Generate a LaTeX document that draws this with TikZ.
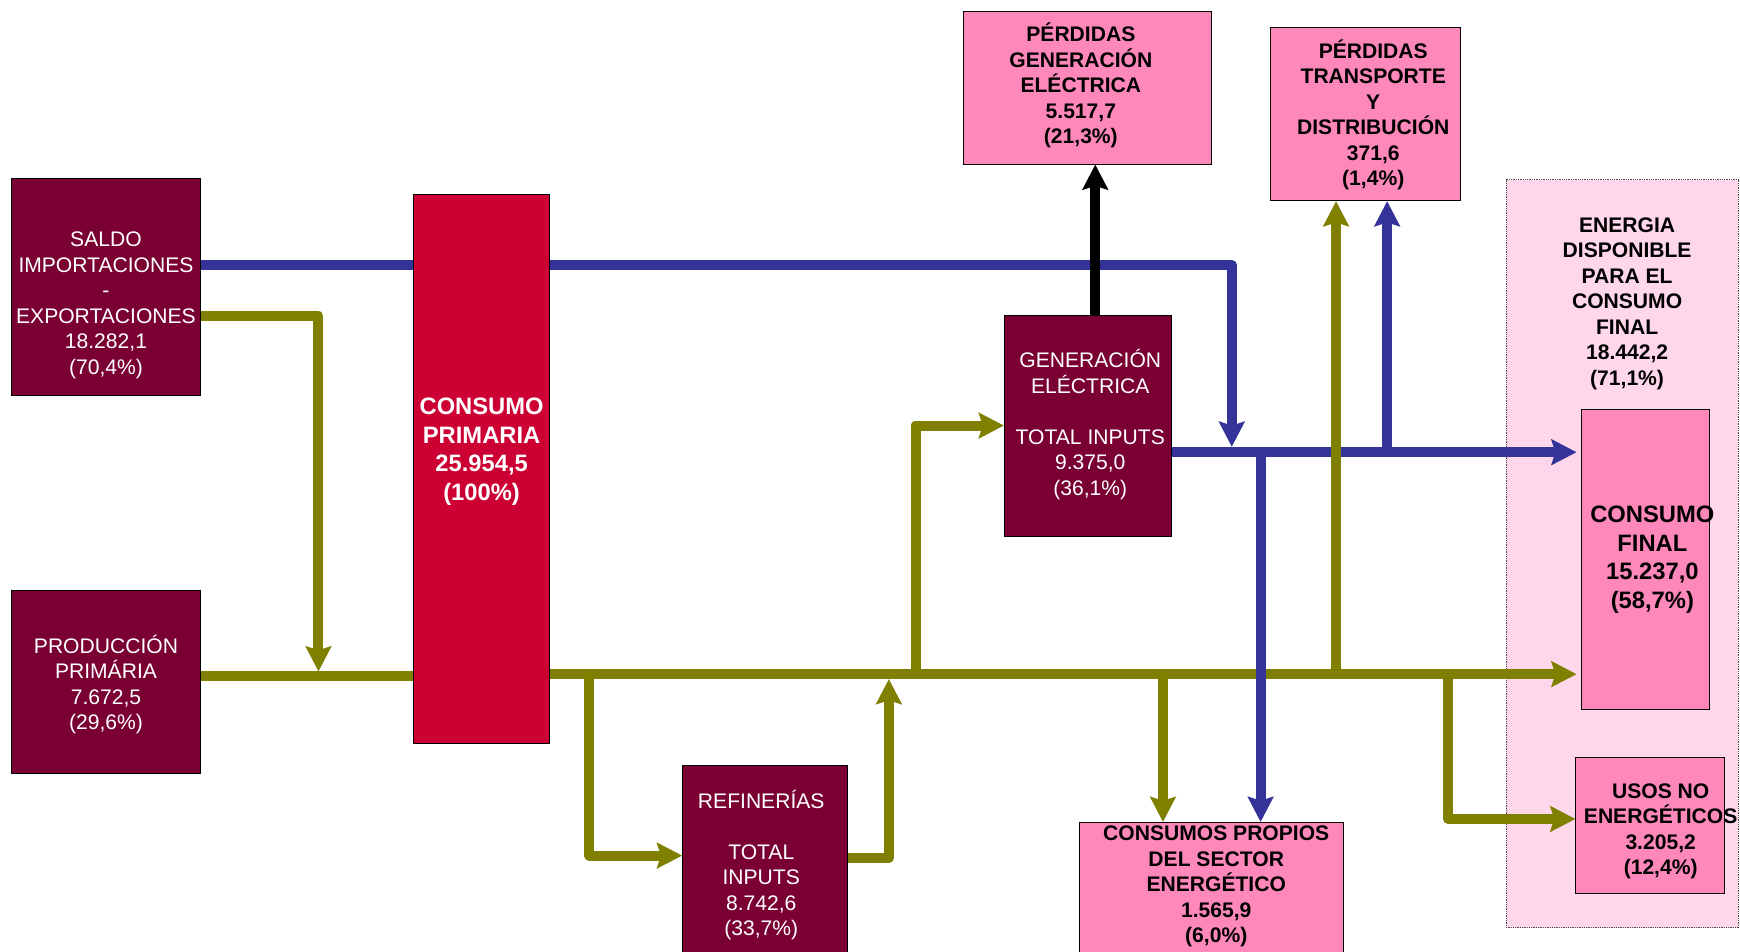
\documentclass[tikz,border=0pt]{standalone}
\usepackage{fontspec}
\setmainfont{Liberation Sans}
\usetikzlibrary{arrows.meta,backgrounds}

\definecolor{boxmaroon}{RGB}{122,0,51}
\definecolor{boxred}{RGB}{204,0,51}
\definecolor{boxpink}{RGB}{255,136,187}
\definecolor{areapink}{RGB}{255,215,235}
\definecolor{flowblue}{RGB}{51,51,153}
\definecolor{flowolive}{RGB}{128,128,0}

\tikzset{
	box/.style={draw=black, line width=0.8pt, inner sep=0pt},
	darkbox/.style={box, fill=boxmaroon},
	redbox/.style={box, fill=boxred},
	pinkbox/.style={box, fill=boxpink},
	areabox/.style={draw=black!70, densely dotted, line width=0.6pt, fill=areapink, inner sep=0pt},
	txt/.style={align=center, inner sep=0pt, yshift=-2.5, font=\fontsize{19}{23}\selectfont},
	whitetxt/.style={txt, text=white},
	blacktxt/.style={txt, font=\bfseries\fontsize{19}{23}\selectfont},
	bigtxt/.style={txt, font=\bfseries\fontsize{21.4}{25.8}\selectfont},
	flowline/.style={line width=9pt, line join=round},
	flow/.style={flowline, -{Stealth[length=23pt, width=24pt, inset=4pt, line width=0pt]}},
	blueflow/.style={flow, draw=flowblue},
	oliveflow/.style={flow, draw=flowolive},
	blackflow/.style={flow, draw=black},
}

\begin{document}
\begin{tikzpicture}[x=1pt,y=-1pt]
	\useasboundingbox (0,0) rectangle (1568,857);
	\clip (0,0) rectangle (1568,857);

	% sources
	\node[darkbox, minimum width=171, minimum height=195,
		label={[whitetxt, yshift=-14]center:{SALDO\\IMPORTACIONES\\-\\EXPORTACIONES\\18.282,1\\(70,4\%)}}]
		(saldo) at (95.5,258.5) {};
	\node[darkbox, minimum width=171, minimum height=165,
		label={[whitetxt]center:{PRODUCCIÓN\\PRIMÁRIA\\7.672,5\\(29,6\%)}}]
		(prod) at (95.5,614.5) {};
	\node[redbox, minimum width=122, minimum height=495,
		label={[bigtxt, text=white, yshift=18]center:{CONSUMO\\PRIMARIA\\25.954,5\\(100\%)}}]
		(primaria) at (434,422.5) {};

	% transformation
	\node[darkbox, minimum width=151, minimum height=199,
		label={[whitetxt, xshift=2, yshift=3.5]center:{GENERACIÓN\\ELÉCTRICA\\[23pt]TOTAL INPUTS\\9.375,0\\(36,1\%)}}]
		(gen) at (980.5,383.5) {};
	\node[darkbox, minimum width=149, minimum height=190,
		label={[whitetxt, xshift=-3.5, yshift=8]center:{REFINERÍAS\\[23pt]TOTAL\\INPUTS\\8.742,6\\(33,7\%)}}]
		(refin) at (689.5,785) {};

	% losses
	\node[pinkbox, minimum width=224, minimum height=138,
		label={[blacktxt, xshift=-6, yshift=4.5]center:{PÉRDIDAS\\GENERACIÓN\\ELÉCTRICA\\5.517,7\\(21,3\%)}}]
		(perdgen) at (980,79) {};
	\node[pinkbox, minimum width=171, minimum height=156,
		label={[blacktxt, xshift=7, yshift=2]center:{PÉRDIDAS\\TRANSPORTE\\Y\\DISTRIBUCIÓN\\371,6\\(1,4\%)}}]
		(perdtra) at (1230.5,103) {};
	\node[pinkbox, minimum width=238, minimum height=140,
		label={[blacktxt, xshift=4, yshift=14.5]center:{CONSUMOS PROPIOS\\DEL SECTOR\\ENERGÉTICO\\1.565,9\\(6,0\%)}}]
		(consprop) at (1092,811) {};

	% final use
	\node[pinkbox, minimum width=115, minimum height=270,
		label={[bigtxt, xshift=6.5, yshift=2]center:{CONSUMO\\FINAL\\15.237,0\\(58,7\%)}}]
		(consfin) at (1482.5,504) {};
	\node[pinkbox, minimum width=134, minimum height=122,
		label={[blacktxt, xshift=9.5, yshift=-2.5]center:{USOS NO\\ENERGÉTICOS\\3.205,2\\(12,4\%)}}]
		(usos) at (1487,744) {};

	% junctions
	\coordinate (bturn) at (1110,239);
	\coordinate (bdrop) at (1110,402.5);
	\coordinate (bdown) at (1136,407.5);
	\coordinate (bup) at (1250,407.5);
	\coordinate (oturn) at (287,285);
	\coordinate (odrop) at (287,605);
	\coordinate (oin) at (287,609.5);
	\coordinate (orefin) at (531,771);
	\coordinate (oback) at (801,773);
	\coordinate (obackup) at (801,612);
	\coordinate (ogen) at (825,383.5);
	\coordinate (oprop) at (1048,607.5);
	\coordinate (otra) at (1204,607.5);
	\coordinate (ousos) at (1305,738);
	\coordinate (kup) at (987,283);

	\begin{pgfonlayer}{background}
		\node[areabox, minimum width=209.5, minimum height=674,
			label={[blacktxt, xshift=4.5, yshift=228]center:{ENERGIA\\DISPONIBLE\\PARA EL\\CONSUMO\\FINAL\\18.442,2\\(71,1\%)}}]
			(energia) at (1461.75,499) {};

		% olive flows
		\draw[oliveflow] (saldo.east |- oturn) -- (oturn) -- (odrop);
		\draw[flowline, flowolive] (prod.east |- oin) -- (primaria.west |- oin);
		\draw[oliveflow, shorten >=4pt] (primaria.east |- oprop) -- (consfin.west |- oprop);
		\draw[oliveflow] (orefin |- oprop) -- (orefin) -- (refin.west |- orefin);
		\draw[oliveflow] (refin.east |- oback) -- (oback) -- (obackup);
		\draw[oliveflow] (ogen |- oprop) -- (ogen) -- (gen.west |- ogen);
		\draw[oliveflow] (oprop) -- (consprop.north -| oprop);
		\draw[oliveflow] (ousos |- oprop) -- (ousos) -- (usos.west |- ousos);

		% blue flows
		\draw[blueflow] (saldo.east |- bturn) -- (bturn) -- (bdrop);
		\draw[blueflow, shorten >=4pt] (gen.east |- bdown) -- (consfin.west |- bdown);
		\draw[blueflow] (bdown) -- (consprop.north -| bdown);
		\draw[blueflow] (bup) -- (perdtra.south -| bup);

		\draw[oliveflow] (otra) -- (perdtra.south -| otra);
		\draw[blackflow] (gen.north -| kup) -- (perdgen.south -| kup);
	\end{pgfonlayer}
\end{tikzpicture}
\end{document}
